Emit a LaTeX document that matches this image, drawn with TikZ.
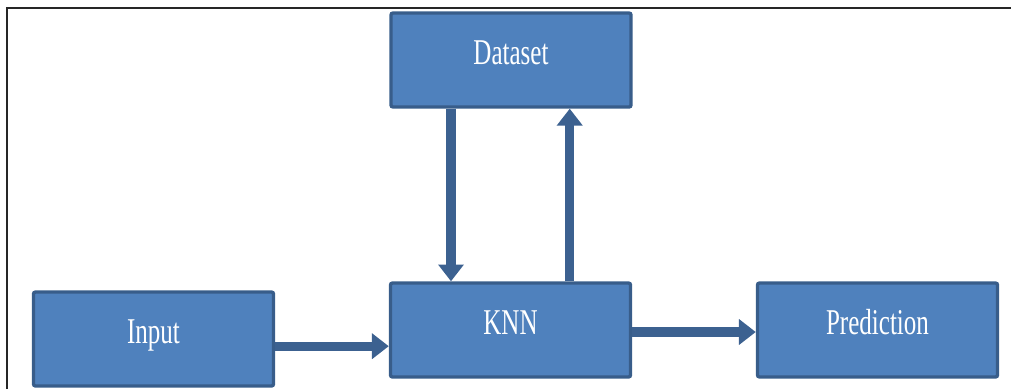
\documentclass[tikz,border=0pt]{standalone}
\usepackage{fontspec}
\setmainfont{Liberation Serif}
\usepackage{tikz}
\usetikzlibrary{arrows.meta, positioning}
\usepackage{xcolor}
\definecolor{boxfill}{HTML}{4F81BD}
\definecolor{boxline}{HTML}{385D8A}
\definecolor{arrowcol}{HTML}{3C6190}
\newcommand{\boxtext}[1]{\scalebox{1}[1.45]{#1}}

\begin{document}
\begin{tikzpicture}[x=0.025cm, y=-0.025cm,
    block/.style={draw=boxline, fill=boxfill, line width=2.4pt, rounded corners=1.5pt,
        minimum width=6cm, minimum height=2.35cm, inner sep=0pt,
        text=white, font=\fontsize{17.8}{20}\selectfont,
        text height=0.7cm, text depth=0.5cm},
    flow/.style={draw=arrowcol, line width=6.5pt,
        -{Triangle[width=0.62cm, length=0.42cm]}}]
    \useasboundingbox (0,0) rectangle (1011,389);
    % Rahmen
    \draw[line width=0.8pt, black!85] (7,389) -- (7,8) -- (1011,8);
    % Blöcke
    \node[block] (dataset) at (511,60) {\boxtext{Dataset}};
    \node[block] (knn) at (510.5,330) {\boxtext{KNN}};
    \node[block] (input) at (153.5,339) {\boxtext{Input}};
    \node[block] (pred) at (877.5,330) {\boxtext{Prediction}};
    % Pfeile
    \draw[flow] ([xshift=-1.5cm]dataset.south) -- ([xshift=-1.5cm]dataset.south |- knn.north);
    \draw[flow] ([xshift=1.48cm]knn.north) -- ([xshift=1.48cm]knn.north |- dataset.south);
    \draw[flow] ([yshift=-0.18cm]input.east) -- ([yshift=-0.18cm]input.east -| knn.west);
    \draw[flow] ([yshift=-0.05cm]knn.east) -- ([yshift=-0.05cm]knn.east -| pred.west);
\end{tikzpicture}
\end{document}
